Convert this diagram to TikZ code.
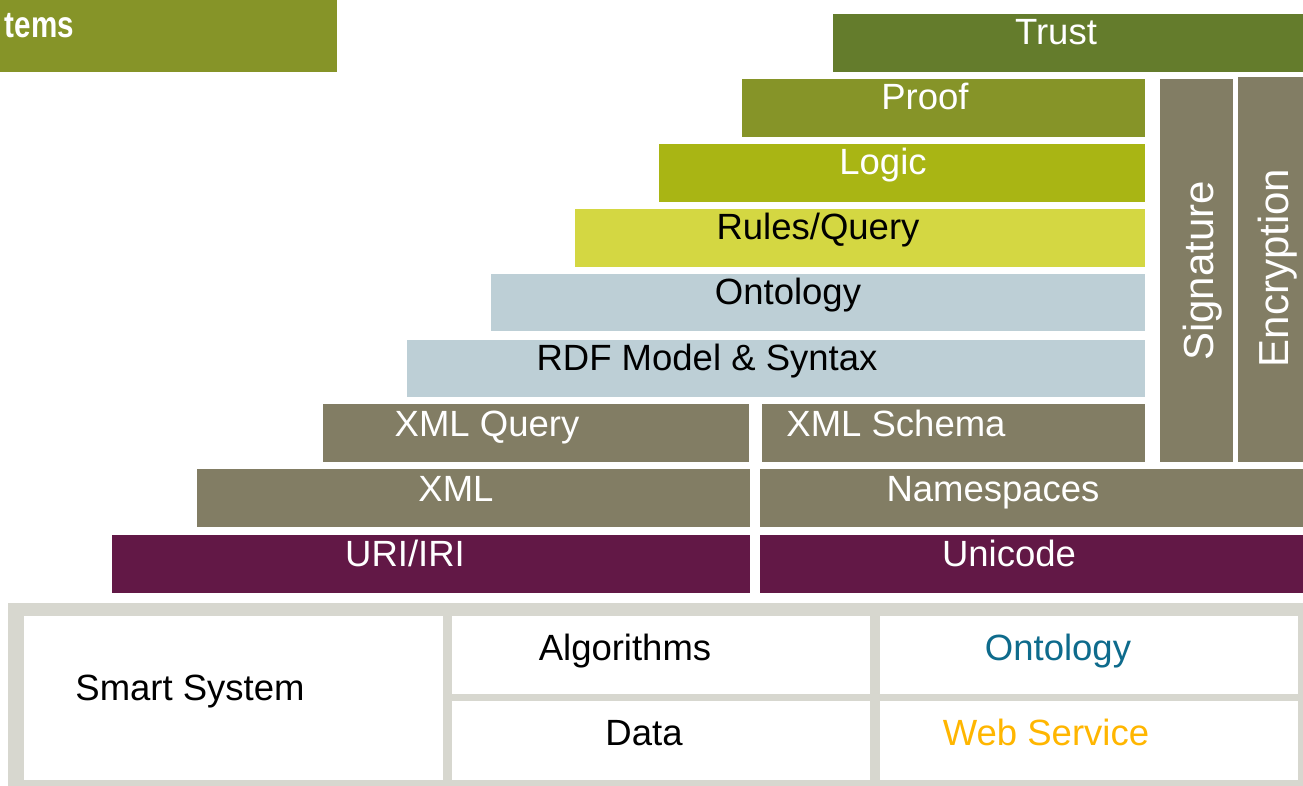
\documentclass[tikz,border=0pt]{standalone}
\usepackage{fontspec}
\usepackage{graphicx}
\setmainfont{Liberation Sans}
\definecolor{olive}{HTML}{869428}
\definecolor{trustgreen}{HTML}{647C2C}
\definecolor{logicgreen}{HTML}{A9B514}
\definecolor{rulesyellow}{HTML}{D4D742}
\definecolor{paleblue}{HTML}{BDCFD6}
\definecolor{taupe}{HTML}{827D64}
\definecolor{plum}{HTML}{621846}
\definecolor{framegrey}{HTML}{D7D7CF}
\definecolor{ontoblue}{HTML}{0E6B8C}
\definecolor{wsorange}{HTML}{FFB600}
\tikzset{
  lbl/.style={anchor=base, inner sep=0pt, font=\fontsize{36.5}{40}\selectfont},
  wlbl/.style={lbl, text=white},
  vlbl/.style={wlbl, rotate=90, font=\fontsize{42}{46}\selectfont},
}
\begin{document}
\begin{tikzpicture}[x=1pt,y=-1pt]
\useasboundingbox (0,0) rectangle (1303,786);
\begin{scope}
\clip (0,0) rectangle (1303,786);

% title bar, cut at the left edge (narrowed bold heading)
\fill[olive] (-10,0) rectangle (337,72);
\node[wlbl, anchor=base east, font=\bfseries\fontsize{37}{40}\selectfont] (title) at (74,38) {\scalebox{0.8}[1]{tems}};

% stack of layers
\fill[trustgreen]  (833,14)  rectangle (1310,72);
\node[wlbl] (trust) at (1056,45) {Trust};
\fill[olive]       (742,79)  rectangle (1145,137);
\node[wlbl] (proof) at (925,110) {Proof};
\fill[logicgreen]  (659,144) rectangle (1145,202);
\node[wlbl] (logic) at (883,175) {Logic};
\fill[rulesyellow] (575,209) rectangle (1145,267);
\node[lbl] (rules) at (818,240) {Rules/Query};
\fill[paleblue]    (491,274) rectangle (1145,331);
\node[lbl] (onto) at (788,305) {Ontology};
\fill[paleblue]    (407,340) rectangle (1145,397);
\node[lbl] (rdf) at (707,370) {RDF Model \& Syntax};
\fill[taupe]       (323,404) rectangle (749,462);
\node[wlbl] (xmlq) at (487,436) {XML Query};
\fill[taupe]       (762,404) rectangle (1145,462);
\node[wlbl] (xmls) at (896,436) {XML Schema};
\fill[taupe]       (197,469) rectangle (750,527);
\node[wlbl] (xml) at (456,501) {XML};
\fill[taupe]       (760,469) rectangle (1310,527);
\node[wlbl] (ns) at (993,501) {Namespaces};
\fill[plum]        (112,535) rectangle (750,593);
\node[wlbl] (uri) at (405,566) {URI/IRI};
\fill[plum]        (760,535) rectangle (1310,593);
\node[wlbl] (uni) at (1009,566) {Unicode};

% vertical columns
\fill[taupe] (1160,79) rectangle (1233,462);
\node[vlbl] (sig) at (1213,271) {Signature};
\fill[taupe] (1238,77) rectangle (1310,462);
\node[vlbl] (enc) at (1288,268) {Encryption};

% table below the stack
\fill[framegrey] (8,603) rectangle (1310,786);
\fill[white] (24,616)  rectangle (443,780);
\fill[white] (452,616) rectangle (870,694);
\fill[white] (880,616) rectangle (1298,694);
\fill[white] (452,701) rectangle (870,780);
\fill[white] (880,701) rectangle (1298,780);
\node[lbl] (smart) at (190,700) {Smart System};
\node[lbl] (algo) at (625,660) {Algorithms};
\node[lbl, text=ontoblue] (onto2) at (1058,660) {Ontology};
\node[lbl] (data) at (644,745) {Data};
\node[lbl, text=wsorange] (ws) at (1046,745) {Web Service};
\end{scope}
\end{tikzpicture}
\end{document}
